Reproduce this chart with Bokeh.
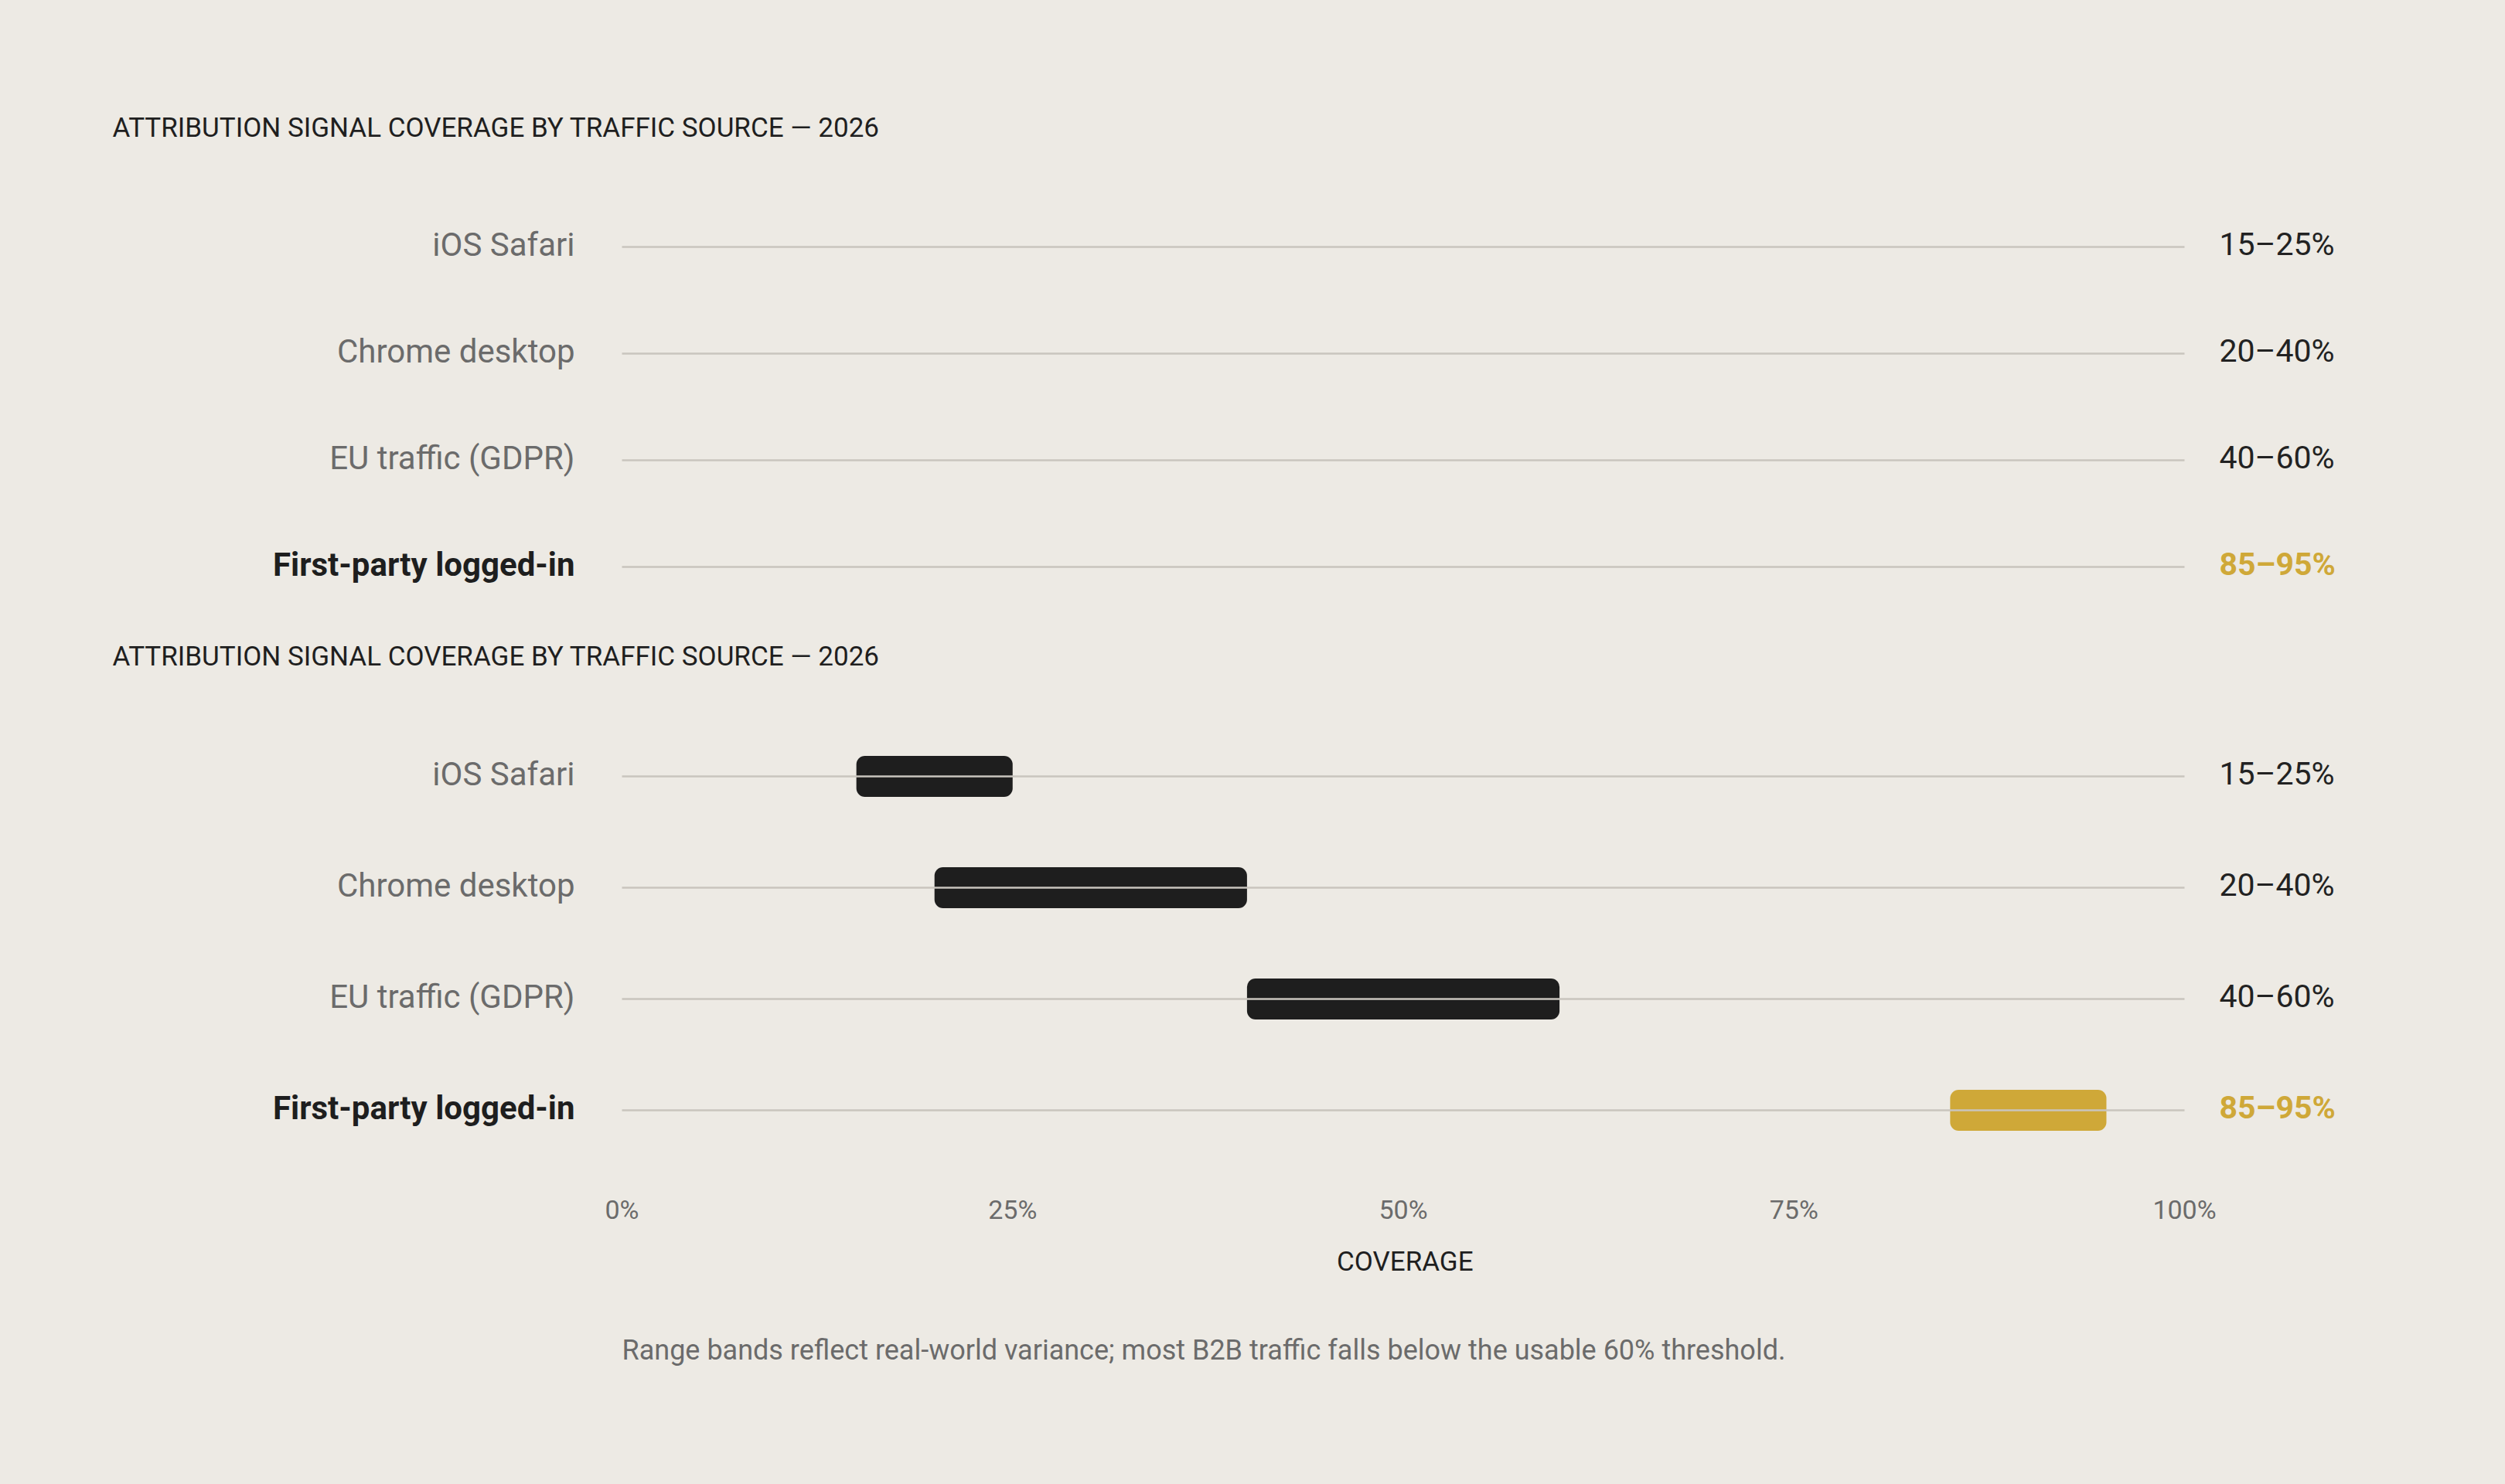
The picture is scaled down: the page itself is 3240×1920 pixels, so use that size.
from bokeh.plotting import figure
from bokeh.core.properties import value
from bokeh.models import (ColumnDataSource, LabelSet, Label, Range1d, FixedTicker,
                          PrintfTickFormatter, GlobalInlineStyleSheet, Title)
from bokeh.layouts import column
from bokeh.embed import file_html
from bokeh.resources import INLINE

# ---------------- data ----------------
title_text = "ATTRIBUTION SIGNAL COVERAGE BY TRAFFIC SOURCE \u2014 2026"
sources = ["iOS Safari", "Chrome desktop", "EU traffic (GDPR)", "First-party logged-in"]
coverage_low = [15, 20, 40, 85]
coverage_high = [25, 40, 60, 95]
highlight_source = "First-party logged-in"
tick_values = [0, 25, 50, 75, 100]
x_axis_title = "COVERAGE"
footnote = "Range bands reflect real-world variance; most B2B traffic falls below the usable 60% threshold."

# ---------------- style / layout ----------------
BG = "#EDEAE4"
GRID = "#C9C5BE"
DARK = "#1E1E1E"
GOLD = "#CFA838"
GRAY = "#6B6B6B"
FONT = "Roboto"
W = 3240
PLOT_L, PLOT_R = 804, 2825          # pixel span of the 0..100 coverage scale
px_per_unit = (PLOT_R - PLOT_L) / (tick_values[-1] - tick_values[0])
X_START = tick_values[0] - PLOT_L / px_per_unit
X_END = tick_values[-1] + (W - PLOT_R) / px_per_unit

n = len(sources)
ys = list(range(n))
is_hl = [s == highlight_source for s in sources]
range_labels = [f"{lo}\u2013{hi}%" for lo, hi in zip(coverage_low, coverage_high)]

src = ColumnDataSource(dict(
    y=ys,
    src=sources,
    lo=coverage_low,
    hi=coverage_high,
    rl=range_labels,
    x_left=[tick_values[0]] * n,
    x_right=[tick_values[-1]] * n,
    bar_color=[GOLD if h else DARK for h in is_hl],
    left_color=[DARK if h else GRAY for h in is_hl],
    right_color=[GOLD if h else "#222222" for h in is_hl],
    weight=["bold" if h else "normal" for h in is_hl],
))


def make_panel(height, frame_h, first_row, row_gap, title_base, with_bars, with_axis):
    # rows: first_row = pixel y of first row from canvas top, row_gap = pixel spacing
    y_top = -first_row / row_gap
    y_bot = (frame_h - first_row) / row_gap
    p = figure(width=W, height=height, output_backend="svg", toolbar_location=None,
               x_range=Range1d(X_START, X_END),
               y_range=Range1d(y_bot, y_top),
               x_axis_location="below" if with_axis else None,
               y_axis_location=None,
               min_border_left=0, min_border_right=0,
               min_border_top=0, min_border_bottom=height - frame_h,
               background_fill_color=BG, border_fill_color=BG,
               outline_line_color=None)
    p.xgrid.visible = False
    p.ygrid.visible = False

    # row rules from 0% to 100%
    p.segment(x0="x_left", x1="x_right", y0="y", y1="y", source=src,
              line_color=GRID, line_width=2.5, level="overlay")

    if with_bars:
        p.hbar(y="y", left="lo", right="hi", height=53 / row_gap, source=src,
               fill_color="bar_color", line_color=None, border_radius=11)

    p.add_layout(LabelSet(x="x_left", y="y", text="src", source=src,
                          x_offset=-61, y_offset=-11,
                          text_align="right", text_baseline="alphabetic",
                          text_font=value(FONT), text_font_size=value("42px"),
                          text_color="left_color", text_font_style="weight"))
    p.add_layout(LabelSet(x="x_right", y="y", text="rl", source=src,
                          x_offset=45, y_offset=-10,
                          text_align="left", text_baseline="alphabetic",
                          text_font=value(FONT), text_font_size=value("41px"),
                          text_color="right_color", text_font_style="weight"))
    p.add_layout(Label(x=145, y=frame_h - title_base, x_units="screen", y_units="screen",
                       text=title_text, text_font=FONT, text_font_size="35px",
                       text_color="#1F1F1F", text_baseline="alphabetic",
                       text_align="left"))

    if with_axis:
        ax = p.xaxis[0]
        ax.ticker = FixedTicker(ticks=tick_values)
        ax.formatter = PrintfTickFormatter(format="%d%%")
        ax.axis_line_color = None
        ax.major_tick_line_color = None
        ax.minor_tick_line_color = None
        ax.major_label_standoff = 30
        ax.major_label_text_font = FONT
        ax.major_label_text_font_size = "34px"
        ax.major_label_text_color = GRAY
        # axis title, centred on the 50% mark of the coverage scale
        p.add_layout(Title(text=x_axis_title, align="left",
                           offset=PLOT_L + (PLOT_R - PLOT_L) / 2 - 86,
                           vertical_align="bottom", standoff=45,
                           text_font=FONT, text_font_size="35px",
                           text_font_style="normal", text_color="#1F1F1F"), "below")
        p.add_layout(Title(text=footnote, align="left", offset=PLOT_L,
                           vertical_align="bottom", standoff=96,
                           text_font=FONT, text_font_size="36px",
                           text_font_style="normal", text_color=GRAY), "below")
    return p


# top panel: canvas 0..802, rows at 319 + 138*i, title baseline
fig1 = make_panel(802, 802, 319, 138, 165, with_bars=False, with_axis=False)
# bottom panel: canvas 802..1920, frame to 1508, rows at 1004 + 144*i, title baseline
fig2 = make_panel(1118, 706, 202, 144, 47, with_bars=True, with_axis=True)

layout = column(fig1, fig2, spacing=0,
                stylesheets=[GlobalInlineStyleSheet(css=f"body {{ background-color: {BG}; }}")])

open("out.html", "w").write(file_html(layout, INLINE))
